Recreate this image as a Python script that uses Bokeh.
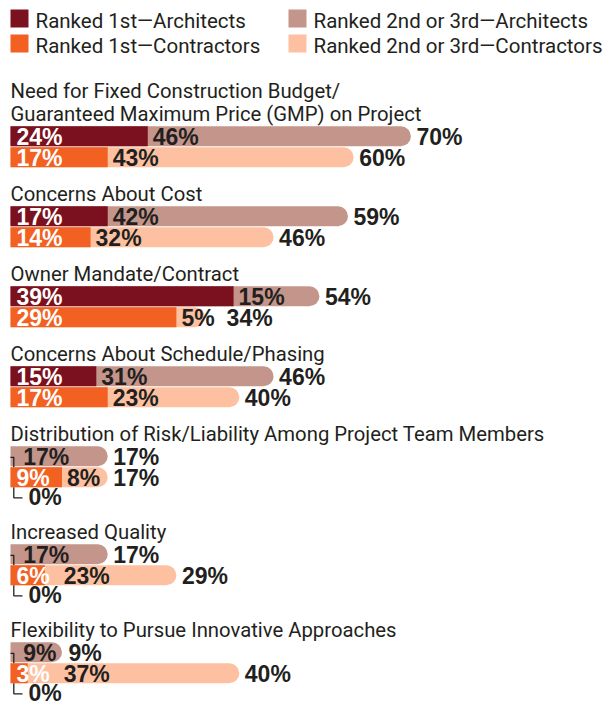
from bokeh.plotting import figure
from bokeh.models import Range1d
from bokeh.core.properties import value
from bokeh.embed import file_html
from bokeh.resources import INLINE

# ---------------- data ----------------
categories = [
    "Need for Fixed Construction Budget/\nGuaranteed Maximum Price (GMP) on Project",
    "Concerns About Cost",
    "Owner Mandate/Contract",
    "Concerns About Schedule/Phasing",
    "Distribution of Risk/Liability Among Project Team Members",
    "Increased Quality",
    "Flexibility to Pursue Innovative Approaches",
]
arch_first = [24, 17, 39, 15, 0, 0, 0]
arch_second = [46, 42, 15, 31, 17, 17, 9]
arch_total = [70, 59, 54, 46, 17, 17, 9]
con_first = [17, 14, 29, 17, 9, 6, 3]
con_second = [43, 32, 5, 23, 8, 23, 37]
con_total = [60, 46, 34, 40, 17, 29, 40]
legend_labels = ["Ranked 1st\u2014Architects", "Ranked 2nd or 3rd\u2014Architects",
                 "Ranked 1st\u2014Contractors", "Ranked 2nd or 3rd\u2014Contractors"]

# ---------------- style ----------------
C_A1 = "#7B111E"
C_A2 = "#C4968B"
C_C1 = "#F26122"
C_C2 = "#FDC1A1"
C_TXT = "#231F20"
TITLE_FONT = "Roboto"
NUM_FONT = "Liberation Sans"
NUM_SIZE = 23

W, H = 610, 709
MARGIN = 0
X0 = 10.0          # page x of 0 %
SCALE = 5.72       # px per percent
BAR_H = 20
ROW = 21

def px2x(px):
    return (px - X0) / SCALE

def x2px(v):
    return X0 + v * SCALE

def num_w(s):
    w = 0.0
    for ch in s:
        w += 0.889 if ch == "%" else 0.556
    return w * NUM_SIZE

p = figure(width=W, height=H, output_backend="svg", toolbar_location=None,
           x_range=Range1d(px2x(MARGIN), px2x(MARGIN + W)),
           y_range=Range1d(MARGIN + H, MARGIN),
           x_axis_location=None, y_axis_location=None,
           min_border=0, outline_line_color=None, background_fill_color="white")
p.xgrid.visible = False
p.ygrid.visible = False

# ---------------- legend ----------------
leg_cols = [C_A1, C_A2, C_C1, C_C2]
leg_sq_x = [10, 288, 10, 288]
leg_sq_y = [9, 9, 34, 34]
p.quad(left=[px2x(v) for v in leg_sq_x], right=[px2x(v + 18) for v in leg_sq_x],
       top=leg_sq_y, bottom=[v + 18 for v in leg_sq_y], fill_color=leg_cols, line_color=None)
p.text(x=[px2x(v + 25) for v in leg_sq_x], y=[v + 11 for v in leg_sq_y], text=legend_labels,
       text_font=value(TITLE_FONT), text_font_size="20.5px", text_color=C_TXT,
       text_baseline="middle", text_align="left")

# ---------------- layout ----------------
t_x, t_y, t_txt = [], [], []
a_y, c_y, z_y = [], [], []
baseline = 98.3
for i, cat in enumerate(categories):
    lines = cat.split("\n")
    for j, ln in enumerate(lines):
        t_x.append(px2x(10)); t_y.append(baseline + j * 22.5 - 7.5); t_txt.append(ln)
    last_base = baseline + (len(lines) - 1) * 22.5
    atop = last_base + 5
    a_y.append(atop + BAR_H / 2)
    c_y.append(atop + ROW + BAR_H / 2)
    bottom = atop + ROW + BAR_H
    z_y.append(c_y[-1] + ROW - 0.5)
    baseline = bottom + 34 + (18 if arch_first[i] == 0 else 0)

p.text(x=t_x, y=t_y, text=t_txt, text_font=value(TITLE_FONT), text_font_size="20.3px",
       text_color=C_TXT, text_baseline="middle")

# ---------------- bars ----------------
def light(ys, totals, col):
    p.hbar(y=ys, left=0, right=totals, height=BAR_H, fill_color=col, line_color=None,
           border_radius=(0, 10, 10, 0))

def dark(ys, firsts, col):
    idx = [k for k, v in enumerate(firsts) if v > 0]
    p.hbar(y=[ys[k] for k in idx], left=0, right=[firsts[k] for k in idx], height=BAR_H,
           fill_color=col, line_color=None)

light(a_y, arch_total, C_A2)
dark(a_y, arch_first, C_A1)

# bracket for zero first-rank architects
for k, v in enumerate(arch_first):
    if v == 0:
        p.line(x=[px2x(10), px2x(13.3), px2x(13.3), px2x(22)],
               y=[a_y[k] + 1, a_y[k] + 1, z_y[k], z_y[k]],
               line_color=C_TXT, line_width=1.3)

light(c_y, con_total, C_C2)
dark(c_y, con_first, C_C1)

# ---------------- labels ----------------
wx, wy, wt = [], [], []
dx, dy, dt = [], [], []
for ys, firsts, seconds, totals in [(a_y, arch_first, arch_second, arch_total),
                                     (c_y, con_first, con_second, con_total)]:
    for k in range(len(firsts)):
        yc = ys[k] + 1
        if firsts[k] > 0:
            s1 = f"{firsts[k]}%"
            wx.append(px2x(16)); wy.append(yc); wt.append(s1)
            x2 = max(x2px(firsts[k]) + 5, 16 + num_w(s1) + 14)
        else:
            x2 = 22.7
        s2 = f"{seconds[k]}%"
        dx.append(px2x(x2)); dy.append(yc); dt.append(s2)
        x3 = max(x2px(totals[k]) + 5.5, x2 + num_w(s2) + 12)
        dx.append(px2x(x3)); dy.append(yc); dt.append(f"{totals[k]}%")

for k, v in enumerate(arch_first):
    if v == 0:
        dx.append(px2x(28)); dy.append(z_y[k] - 1); dt.append("0%")

p.text(x=wx, y=wy, text=wt, text_font=value(NUM_FONT), text_font_style="bold",
       text_font_size=f"{NUM_SIZE}px", text_color="white", text_baseline="middle")
p.text(x=dx, y=dy, text=dt, text_font=value(NUM_FONT), text_font_style="bold",
       text_font_size=f"{NUM_SIZE}px", text_color=C_TXT, text_baseline="middle")

open("out.html", "w").write(file_html(p, INLINE))
